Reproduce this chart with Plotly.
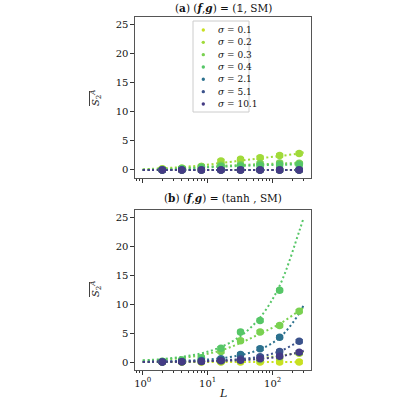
import plotly.graph_objects as go

# ---------------- data ----------------
sigmas = ["0.1", "0.2", "0.3", "0.4", "2.1", "5.1", "10.1"]
colors = ["#c8e020", "#a0da39", "#7ad151", "#56c667", "#2c718e", "#3b528b", "#443b84"]

L_pts = [2, 4, 8, 16, 32, 64, 128, 256]
L_fit = [1, 2, 4, 8, 16, 32, 64, 128, 256, 300]

# panel (a): (f,g) = (1, SM)
a_pts = {
    "0.1": [0, 0, 0, 0, 0, 0, 0, 0],
    "0.2": [0.2, 0.3, 0.6, 1.55, 1.85, 2.1, 2.5, 2.85],
    "0.3": [0.1, 0.3, 0.6, 0.8, 0.9, 1.1, 1.2, 1.15],
    "0.4": [0.05, 0.2, 0.4, 0.6, 0.7, 0.8, 0.9, 0.95],
    "2.1": [0, 0, 0, 0, 0, 0, 0, 0],
    "5.1": [0, 0, 0, 0, 0, 0, 0, 0],
    "10.1": [0, 0, 0, 0, 0, 0, 0, 0],
}
a_fit = {
    "0.1": [0, 0, 0, 0, 0, 0, 0, 0, 0, 0],
    "0.2": [0.1, 0.3, 0.5, 0.8, 1.2, 1.6, 2.0, 2.4, 2.85, 3.0],
    "0.3": [0.05, 0.15, 0.3, 0.5, 0.7, 0.85, 1.0, 1.1, 1.2, 1.2],
    "0.4": [0.03, 0.1, 0.2, 0.4, 0.55, 0.7, 0.8, 0.9, 0.95, 1.0],
    "2.1": [0, 0, 0, 0, 0, 0, 0, 0, 0, 0],
    "5.1": [0, 0, 0, 0, 0, 0, 0, 0, 0, 0],
    "10.1": [0, 0, 0, 0, 0, 0, 0, 0, 0, 0],
}

# panel (b): (f,g) = (tanh, SM)
b_pts = {
    "0.1": [0, 0, 0, 0, 0, 0, 0, 0],
    "0.2": [0, 0.02, 0.05, 0.1, 0.2, 0.35, 0.8, 1.5],
    "0.3": [0.1, 0.3, 0.6, 1.8, 3.7, 5.2, 6.3, 8.8],
    "0.4": [0.15, 0.35, 0.75, 2.4, 5.2, 7.2, 12.4, None],
    "2.1": [0.05, 0.1, 0.25, 0.55, 1.3, 2.3, 4.3, None],
    "5.1": [0.02, 0.05, 0.15, 0.3, 0.55, 0.9, 1.8, 3.6],
    "10.1": [0.01, 0.03, 0.08, 0.2, 0.3, 0.55, 1.0, 1.7],
}
b_fit = {
    "0.1": [0, 0, 0, 0, 0, 0, 0, 0, 0, 0],
    "0.2": [0.0, 0.02, 0.05, 0.1, 0.2, 0.35, 0.65, 1.1, 1.6, 1.75],
    "0.3": [0.2, 0.4, 0.7, 1.2, 2.0, 3.3, 4.9, 6.6, 8.9, 9.5],
    "0.4": [0.3, 0.5, 0.9, 1.5, 2.6, 4.5, 7.7, 13.2, 22.6, 25.0],
    "2.1": [0.05, 0.1, 0.2, 0.35, 0.65, 1.2, 2.2, 4.2, 8.4, 9.9],
    "5.1": [0.02, 0.04, 0.08, 0.15, 0.3, 0.5, 0.95, 1.85, 3.6, 4.1],
    "10.1": [0.02, 0.04, 0.07, 0.12, 0.2, 0.32, 0.55, 0.95, 1.7, 1.95],
}
err = 0.25

y_ticks = [0, 5, 10, 15, 20, 25]
x_ticks = [1, 10, 100]
x_ticktext = ["10<sup>0</sup>", "10<sup>1</sup>", "10<sup>2</sup>"]
x_minor = [0.8, 0.9, 2, 3, 4, 5, 6, 7, 8, 9, 20, 30, 40, 50, 60, 70, 80, 90, 200, 300]

# ---------------- layout geometry (pixels) ----------------
W = H = 400
ML, MR, MT, MB = 135, 89, 17, 30
PW, PH = W - ML - MR, H - MT - MB
top_dom = [(H - MB - 178) / PH, 1.0]
bot_dom = [0.0, (H - MB - 210) / PH]


def px(x):
    return (x - ML) / PW


def py(y):
    return (H - MB - y) / PH


FONT = "DejaVu Serif"
fig = go.Figure()

for panel, pts, fit, xa, ya in [("a", a_pts, a_fit, "x", "y"), ("b", b_pts, b_fit, "x2", "y2")]:
    for s, c in zip(sigmas, colors):
        fig.add_trace(go.Scatter(
            x=L_fit, y=fit[s], mode="lines",
            line=dict(color=c, width=2, dash="2px,2.6px", shape="spline"),
            xaxis=xa, yaxis=ya, showlegend=False, hoverinfo="skip"))
    for s, c in zip(sigmas, colors):
        fig.add_trace(go.Scatter(
            x=L_pts, y=pts[s], mode="markers", marker=dict(color=c, size=7.5),
            error_y=dict(type="constant", value=err, color=c, thickness=1.5, width=3.5),
            error_x=dict(type="percent", value=8, color=c, thickness=1.5, width=2),
            xaxis=xa, yaxis=ya, showlegend=False))

axis_common = dict(
    type="log", range=[-0.119, 2.59], showgrid=False, zeroline=False,
    ticks="outside", ticklen=3.5, tickwidth=1, tickcolor="#333",
    tickvals=x_ticks, ticktext=x_ticktext,
    minor=dict(ticks="outside", ticklen=2, tickwidth=0.8, tickcolor="#333", tickvals=x_minor),
    showline=True, linecolor="#555", linewidth=1.2, mirror=True,
    tickfont=dict(family=FONT, size=10, color="#111"),
)
yaxis_common = dict(
    range=[-1.38, 26.3], showgrid=False, zeroline=False,
    ticks="outside", ticklen=3.5, tickwidth=1, tickcolor="#333",
    tickvals=y_ticks, showline=True, linecolor="#555", linewidth=1.2, mirror=True,
    tickfont=dict(family=FONT, size=10, color="#111"),
)

fig.update_layout(
    width=W, height=H, margin=dict(l=ML, r=MR, t=MT, b=MB),
    paper_bgcolor="white", plot_bgcolor="white", showlegend=False,
    xaxis=dict(axis_common, anchor="y", showticklabels=False),
    yaxis=dict(yaxis_common, anchor="x", domain=top_dom),
    xaxis2=dict(axis_common, anchor="y2", matches="x"),
    yaxis2=dict(yaxis_common, anchor="x2", domain=bot_dom),
)

ann = []
shapes = []


def text(t, x, y, size, xanchor="center", angle=0):
    ann.append(dict(text=t, x=px(x), y=py(y), xref="paper", yref="paper", showarrow=False,
                    xanchor=xanchor, yanchor="middle", textangle=angle,
                    font=dict(family=FONT, size=size, color="#111")))


# panel titles
text("(<b>a</b>) (<b><i>f</i></b>,<b><i>g</i></b>) = (𝟙, SM)", 223, 8, 10.5)
text("(<b>b</b>) (<b><i>f</i></b>,<b><i>g</i></b>) = (tanh , SM)", 223, 198, 10.5)
# x label
text("<i>L</i>", 223, 393, 11)
# y labels with overline
for yc in (98, 289):
    text("<i>S</i><sub>2</sub><sup><i>A</i></sup>", 96, yc, 10, angle=-90)
    shapes.append(dict(type="line", xref="paper", yref="paper", x0=px(89.5), x1=px(89.5),
                       y0=py(yc - 7), y1=py(yc + 8), line=dict(color="#111", width=0.8)))

# legend (panel a)
shapes.append(dict(type="rect", xref="paper", yref="paper", x0=px(193), x1=px(249), y0=py(21), y1=py(112),
                   line=dict(color="#cccccc", width=1), fillcolor="white", layer="above"))
for i, (s, c) in enumerate(zip(sigmas, colors)):
    yy = 30 + i * 12.33
    shapes.append(dict(type="circle", xref="paper", yref="paper", x0=px(201.6), x1=px(205), y0=py(yy - 1.7),
                       y1=py(yy + 1.7), line=dict(color=c, width=0), fillcolor=c, layer="above"))
    text("<i>σ</i> = " + s, 216, yy, 9, xanchor="left")

fig.update_layout(annotations=ann, shapes=shapes)
fig.write_html("out.html")
